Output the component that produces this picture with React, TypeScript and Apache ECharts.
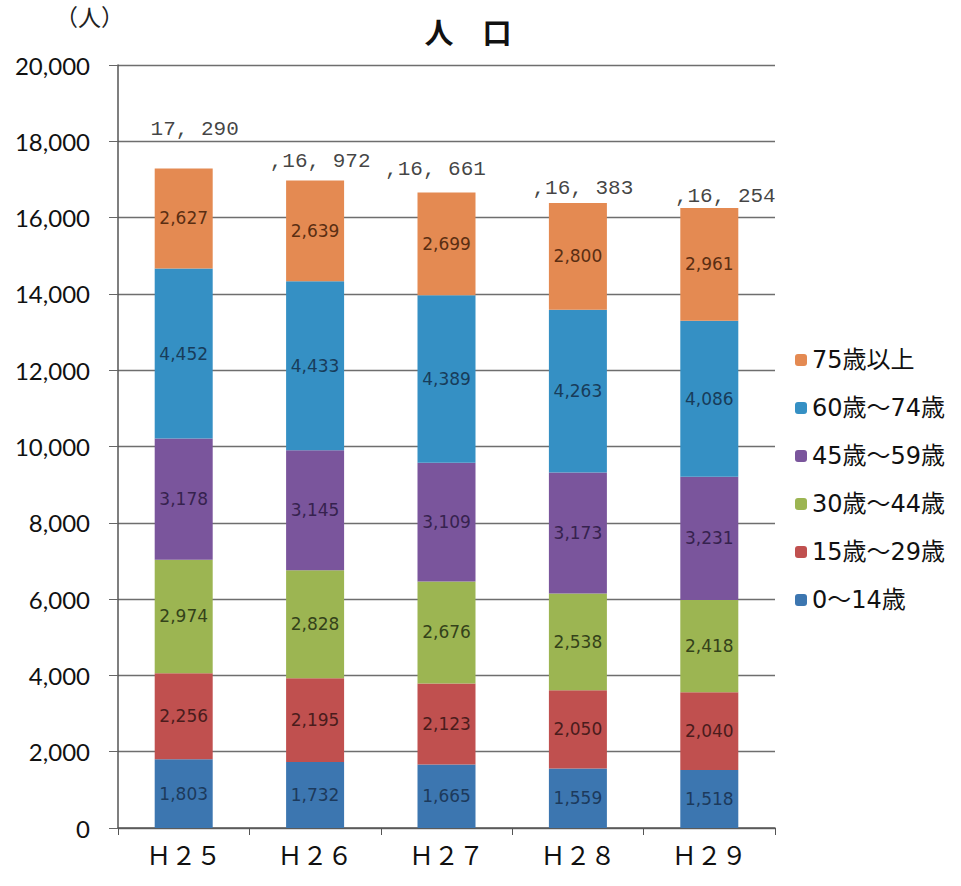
import React, { useEffect, useRef } from "react";
import * as echarts from "echarts";

// Fiscal years (Heisei)
const years = ["Ｈ２５", "Ｈ２６", "Ｈ２７", "Ｈ２８", "Ｈ２９"];

// Population by age group
const age0to14 = [1803, 1732, 1665, 1559, 1518];
const age15to29 = [2256, 2195, 2123, 2050, 2040];
const age30to44 = [2974, 2828, 2676, 2538, 2418];
const age45to59 = [3178, 3145, 3109, 3173, 3231];
const age60to74 = [4452, 4433, 4389, 4263, 4086];
const age75plus = [2627, 2639, 2699, 2800, 2961];

// Totals and the way they are printed above each column
const totals = [17290, 16972, 16661, 16383, 16254];
const totalLabels = ["17, 290", ",16, 972", ",16, 661", ",16, 383", ",16, 254"];

const groupNames = ["0～14歳", "15歳～29歳", "30歳～44歳", "45歳～59歳", "60歳～74歳", "75歳以上"];
const groupValues = [age0to14, age15to29, age30to44, age45to59, age60to74, age75plus];

const yTicks = { min: 0, max: 20000, interval: 2000 };

const barColors = ["#3C76B0", "#C0504F", "#9CB552", "#7A559C", "#3590C4", "#E48A52"];
const labelColors = ["#1c3a5c", "#4a1c1c", "#34421a", "#36224e", "#183c5a", "#5a2e12"];

// hand-placed offsets of the total labels
const totalOffsets = [
  [11, -28],
  [5, -8],
  [-11, -12],
  [5, -3],
  [16, 0],
];

export default function App() {
  const ref = useRef<HTMLDivElement>(null);

  useEffect(() => {
    document.body.style.margin = "0";
    const chart = echarts.init(ref.current!, undefined, { renderer: "svg" });

    const barSeries = groupNames.map((name, i) => ({
      name,
      type: "bar",
      stack: "pop",
      barWidth: 58,
      data: groupValues[i],
      itemStyle: { color: barColors[i] },
      label: {
        show: true,
        position: "inside",
        formatter: (p: any) => p.value.toLocaleString("en-US"),
        fontFamily: "DejaVu Sans",
        fontSize: 17,
        color: labelColors[i],
      },
    }));

    chart.setOption({
      animation: false,
      backgroundColor: "#ffffff",
      title: {
        text: "人　口",
        left: 463,
        top: 11,
        textAlign: "center",
        textStyle: {
          fontFamily: "Noto Sans CJK JP",
          fontSize: 29,
          fontWeight: "bold",
          color: "#111",
        },
      },
      graphic: [
        {
          type: "text",
          left: 55,
          top: 4,
          style: {
            text: "（人）",
            fontFamily: "Noto Sans CJK JP",
            fontSize: 23,
            fill: "#222",
          },
        },
      ],
      legend: {
        orient: "vertical",
        left: 790,
        top: 343,
        itemWidth: 12,
        itemHeight: 12,
        itemGap: 24,
        data: [...groupNames].reverse(),
        textStyle: {
          fontFamily: "DejaVu Sans, Noto Sans CJK JP",
          fontSize: 24,
          lineHeight: 24,
          color: "#111",
        },
      },
      grid: { left: 118, right: 186, top: 65, bottom: 58 },
      xAxis: {
        type: "category",
        data: years,
        axisLine: { lineStyle: { color: "#555", width: 1.5 } },
        axisTick: { show: true, length: 7, lineStyle: { color: "#555" } },
        axisLabel: {
          margin: 13,
          fontFamily: "Noto Sans CJK JP",
          fontSize: 25,
          color: "#111",
        },
      },
      yAxis: {
        type: "value",
        min: yTicks.min,
        max: yTicks.max,
        interval: yTicks.interval,
        axisLine: { show: true, lineStyle: { color: "#555", width: 1.5 } },
        axisTick: { show: true, length: 9, lineStyle: { color: "#666" } },
        splitLine: { lineStyle: { color: "#6e6e6e", width: 1.3 } },
        axisLabel: {
          margin: 28,
          fontFamily: "Lato",
          fontSize: 24,
          color: "#111",
          formatter: (v: number) => v.toLocaleString("en-US"),
        },
      },
      series: [
        ...barSeries,
        {
          name: "total",
          type: "scatter",
          symbolSize: 1,
          itemStyle: { color: "rgba(0,0,0,0)" },
          data: totals.map((v, i) => ({
            value: v,
            label: { offset: totalOffsets[i] },
          })),
          label: {
            show: true,
            position: "top",
            distance: 0,
            formatter: (p: any) => totalLabels[p.dataIndex],
            fontFamily: "Liberation Mono",
            fontSize: 21,
            color: "#111",
          },
          z: 5,
        },
      ],
    });

    return () => chart.dispose();
  }, []);

  return <div ref={ref} style={{ width: 961, height: 886 }} />;
}
